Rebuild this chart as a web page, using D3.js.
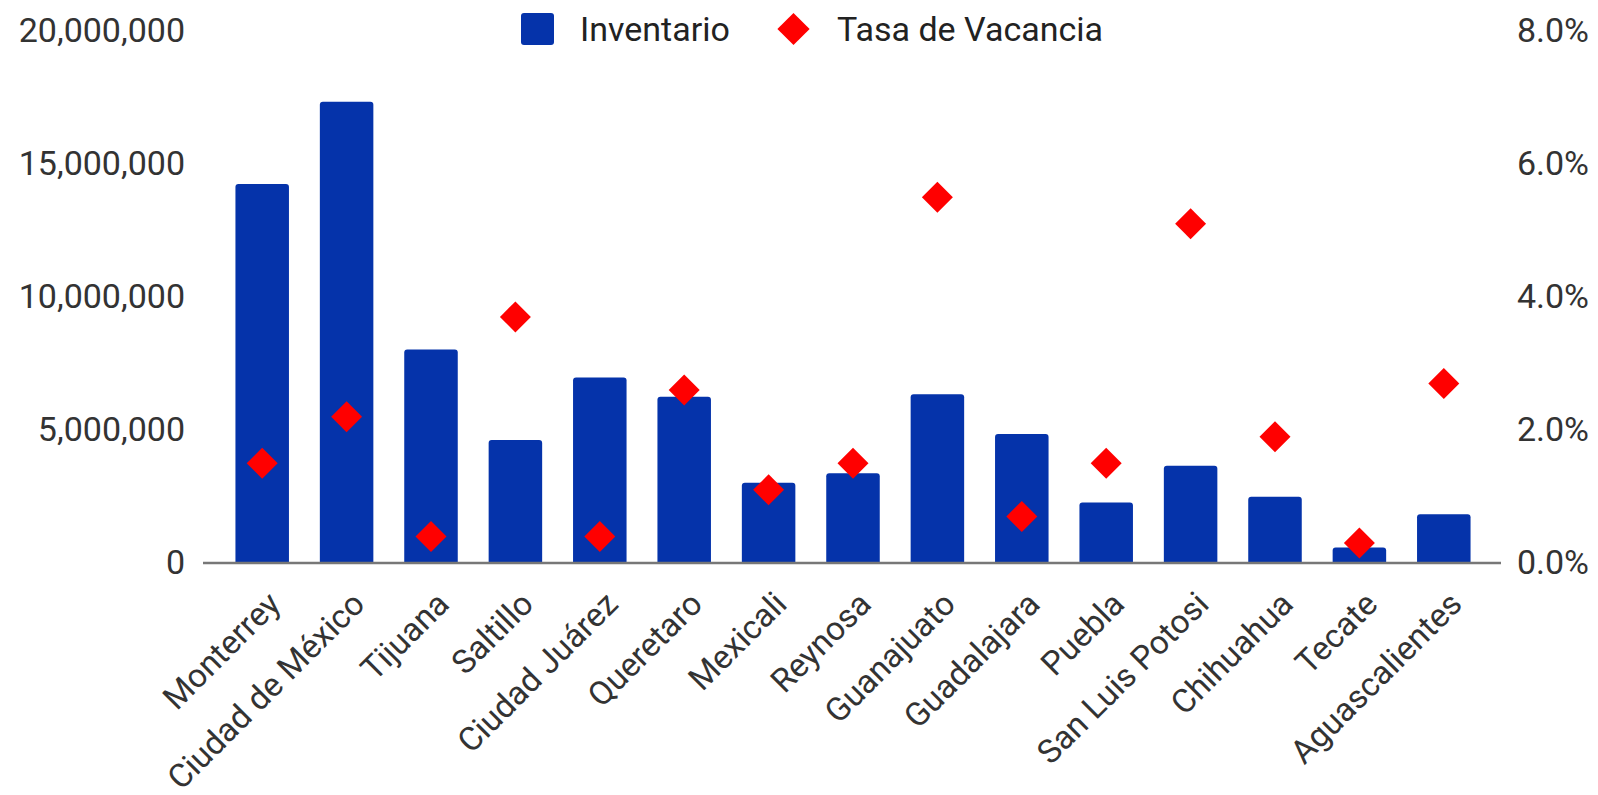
<!DOCTYPE html>
<html>
<head>
<meta charset="utf-8">
<title>Inventario y Tasa de Vacancia</title>
<script src="https://cdnjs.cloudflare.com/ajax/libs/d3/7.8.5/d3.min.js"></script>
<style>
  body { margin: 0; background: #fff; }
  svg text { font-family: Roboto, "Noto Sans", sans-serif; }
</style>
</head>
<body>
<svg id="chart"></svg>
<script>
const WIDTH = 1598
const HEIGHT = 795

// data
const cities = ["Monterrey", "Ciudad de México", "Tijuana", "Saltillo", "Ciudad Juárez",
  "Queretaro", "Mexicali", "Reynosa", "Guanajuato", "Guadalajara", "Puebla",
  "San Luis Potosi", "Chihuahua", "Tecate", "Aguascalientes"]
const inventario = [14250000, 17340000, 8030000, 4620000, 6970000,
  6250000, 3020000, 3370000, 6340000, 4850000, 2270000,
  3660000, 2490000, 580000, 1830000]
const vacancia = [0.015, 0.022, 0.004, 0.037, 0.004,
  0.026, 0.011, 0.015, 0.055, 0.007, 0.015,
  0.051, 0.019, 0.003, 0.027]
const leftTicks = [0, 5000000, 10000000, 15000000, 20000000]
const rightTicks = [0, 0.02, 0.04, 0.06, 0.08]

const BLUE = "#0533aa"
const RED = "#ff0000"

const MARGIN = { left: 220, right: 112, top: 31, bottom: 232 }

const svg = d3.select("#chart")
  .attr("width", WIDTH)
  .attr("height", HEIGHT)

const xScale = d3.scaleBand()
  .domain(cities)
  .range([MARGIN.left, WIDTH - MARGIN.right])
  .paddingInner(0.366)
  .paddingOuter(0.183)

const yScale = d3.scaleLinear()
  .domain([0, 20000000])
  .range([HEIGHT - MARGIN.bottom, MARGIN.top])

const y2Scale = d3.scaleLinear()
  .domain([0, 0.08])
  .range([HEIGHT - MARGIN.bottom, MARGIN.top])

// left axis labels
const yAxis = d3.axisLeft(yScale)
  .tickValues(leftTicks)
  .tickSize(0)
  .tickPadding(0)
  .tickFormat(d3.format(","))

svg.append("g")
  .attr("transform", `translate(185,0)`)
  .call(yAxis)
  .call(g => g.select(".domain").remove())
  .selectAll("text")
  .attr("font-size", 34)
  .attr("fill", "#333")
  .attr("font-family", "Roboto, sans-serif")

// right axis labels
const y2Axis = d3.axisRight(y2Scale)
  .tickValues(rightTicks)
  .tickSize(0)
  .tickPadding(0)
  .tickFormat(d3.format(".1%"))

svg.append("g")
  .attr("transform", `translate(1589,0)`)
  .call(y2Axis)
  .call(g => g.select(".domain").remove())
  .selectAll("text")
  .attr("text-anchor", "end")
  .attr("font-size", 34)
  .attr("fill", "#333")
  .attr("font-family", "Roboto, sans-serif")

// bars with rounded tops
function barPath(x, y, w, h, r) {
  r = Math.min(r, h / 2, w / 2)
  return `M${x},${y + h}V${y + r}Q${x},${y} ${x + r},${y}H${x + w - r}Q${x + w},${y} ${x + w},${y + r}V${y + h}Z`
}

svg.append("g")
  .selectAll("path")
  .data(cities)
  .join("path")
  .attr("fill", BLUE)
  .attr("d", (d, i) => barPath(xScale(d), yScale(inventario[i]), xScale.bandwidth(),
    yScale(0) - yScale(inventario[i]), 3))

// baseline
svg.append("line")
  .attr("x1", xScale.range()[0] - 17)
  .attr("x2", xScale.range()[1] + 15)
  .attr("y1", yScale(0))
  .attr("y2", yScale(0))
  .attr("stroke", "#777")
  .attr("stroke-width", 2.5)

// diamonds
const diamond = d3.symbol().type(d3.symbolSquare).size(480)

svg.append("g")
  .selectAll("path")
  .data(cities)
  .join("path")
  .attr("d", diamond)
  .attr("fill", RED)
  .attr("transform", (d, i) => `translate(${xScale(d) + xScale.bandwidth() / 2},${y2Scale(vacancia[i])}) rotate(45)`)

// x labels
svg.append("g")
  .selectAll("text")
  .data(cities)
  .join("text")
  .attr("text-anchor", "end")
  .attr("font-size", 33)
  .attr("fill", "#333")
  .attr("transform", d => `translate(${xScale(d) + xScale.bandwidth() / 2 + 20},606) rotate(-45)`)
  .text(d => d)

// legend
const legend = svg.append("g")
legend.append("rect")
  .attr("x", 521).attr("y", 13)
  .attr("width", 33).attr("height", 32)
  .attr("rx", 3)
  .attr("fill", BLUE)
legend.append("text")
  .attr("x", 580).attr("y", 41)
  .attr("font-size", 34)
  .attr("fill", "#222")
  .text("Inventario")
legend.append("path")
  .attr("d", d3.symbol().type(d3.symbolSquare).size(520))
  .attr("fill", RED)
  .attr("transform", "translate(793.5,29) rotate(45)")
legend.append("text")
  .attr("x", 837).attr("y", 41)
  .attr("font-size", 34)
  .attr("fill", "#222")
  .text("Tasa de Vacancia")
</script>
</body>
</html>
